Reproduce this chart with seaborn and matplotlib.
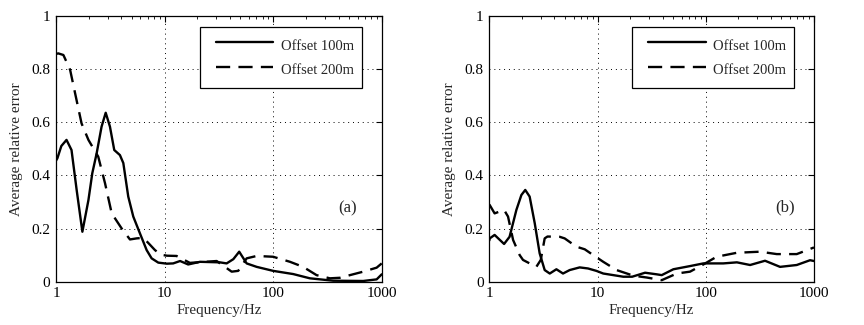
import numpy as np
import pandas as pd
import matplotlib
matplotlib.use("Agg")
import matplotlib.pyplot as plt
import seaborn as sns
from matplotlib.lines import Line2D
from matplotlib.legend_handler import HandlerLine2D
from matplotlib.ticker import FixedLocator, FixedFormatter, LogLocator, NullFormatter

# ---- data ----
a_f100 = [1, 1.03, 1.12, 1.25, 1.39, 1.55, 1.75, 1.99, 2.16, 2.37, 2.63, 2.87, 3.14, 3.44, 3.88, 4.17, 4.63,
          5.15, 5.93, 6.84, 7.6, 8.75, 10.5, 12.0, 13.9, 16.5, 21.2, 32.3, 37.3, 43, 48.7, 57, 70.5, 100, 153,
          218, 357, 676, 898, 1000]
a_e100 = [0.455, 0.464, 0.51, 0.533, 0.495, 0.345, 0.188, 0.307, 0.408, 0.483, 0.583, 0.635, 0.583, 0.495,
          0.476, 0.446, 0.32, 0.245, 0.182, 0.119, 0.088, 0.072, 0.068, 0.069, 0.078, 0.065, 0.075, 0.073, 0.069,
          0.085, 0.113, 0.069, 0.056, 0.041, 0.029, 0.013, 0.004, 0.003, 0.009, 0.028]
a_f200 = [1, 1.05, 1.17, 1.35, 1.5, 1.72, 1.99, 2.45, 2.83, 3.26, 4.03, 4.8, 5.53, 6.3, 7.0, 8.16, 9.2, 10.5,
          12.9, 17.1, 30.2, 41.5, 47.7, 57, 70.5, 100, 143, 189, 251, 333, 412, 510, 676, 898, 1000]
a_e200 = [0.856, 0.858, 0.852, 0.796, 0.708, 0.595, 0.533, 0.47, 0.37, 0.257, 0.2, 0.159, 0.163, 0.165, 0.148,
          0.119, 0.102, 0.098, 0.097, 0.071, 0.078, 0.038, 0.041, 0.088, 0.097, 0.094, 0.075, 0.056, 0.025, 0.013,
          0.015, 0.025, 0.038, 0.053, 0.069]

b_f100 = [1, 1.01, 1.12, 1.37, 1.54, 1.78, 1.98, 2.15, 2.36, 2.63, 2.92, 3.25, 3.62, 4.17, 4.8, 5.53, 6.84,
          8.17, 9.75, 11.3, 17.3, 20.9, 27.5, 35.2, 39.2, 50.2, 71.6, 95, 145, 194, 257, 353, 486, 693, 920, 1000]
b_e100 = [0.155, 0.163, 0.176, 0.142, 0.169, 0.27, 0.326, 0.345, 0.32, 0.22, 0.107, 0.044, 0.031, 0.047, 0.031,
          0.044, 0.054, 0.05, 0.041, 0.031, 0.019, 0.019, 0.034, 0.028, 0.025, 0.047, 0.059, 0.069, 0.069, 0.073,
          0.063, 0.079, 0.056, 0.063, 0.081, 0.078]
b_f200 = [1, 1.01, 1.12, 1.37, 1.49, 1.66, 1.91, 2.05, 2.72, 2.99, 3.25, 3.45, 4.47, 4.97, 6.37, 7.62, 9.15,
          11.3, 15, 21.4, 28.5, 39.2, 54, 71.6, 95, 126, 194, 318, 453, 693, 1000]
b_e200 = [0.29, 0.288, 0.257, 0.27, 0.245, 0.157, 0.1, 0.082, 0.056, 0.082, 0.163, 0.17, 0.169, 0.163, 0.132,
          0.122, 0.1, 0.075, 0.044, 0.023, 0.016, 0.006, 0.031, 0.038, 0.065, 0.094, 0.109, 0.113, 0.104, 0.104,
          0.129]

series_names = ["Offset 100m", "Offset 200m"]
panel_labels = ["(a)", "(b)"]
x_ticks = [1, 10, 100, 1000]
x_ticklabels = ["1", "10", "100", "1000"]
y_ticks = [0, 0.2, 0.4, 0.6, 0.8, 1]
y_ticklabels = ["0", "0.2", "0.4", "0.6", "0.8", "1"]

sns.set_theme(style="white")
plt.rcParams['font.family'] = ['Liberation Serif', 'DejaVu Serif']

fig = plt.figure(figsize=(8.64, 3.25), dpi=100)
ax_a = fig.add_axes([0.0648, 0.133, 0.377, 0.819])
ax_b = fig.add_axes([0.5663, 0.133, 0.3758, 0.819])

DASH = (0, (6.0, 3.5))
LEG_FS = 10.5


class OffsetLineHandler(HandlerLine2D):
    """Legend line that starts a little to the right of the handle box (MATLAB look)."""
    def __init__(self, offset=0.55, **kw):
        super().__init__(**kw)
        self.offset = offset

    def create_artists(self, legend, orig_handle, xdescent, ydescent, width, height, fontsize, trans):
        off = self.offset * fontsize
        return super().create_artists(legend, orig_handle, xdescent - off, ydescent, width - off,
                                      height, fontsize, trans)


panels = [
    (ax_a, a_f100, a_e100, a_f200, a_e200, panel_labels[0], (486, 0.275)),
    (ax_b, b_f100, b_e100, b_f200, b_e200, panel_labels[1], (540, 0.28)),
]

for ax, f1, e1, f2, e2, lab, lab_pos in panels:
    df1 = pd.DataFrame({"f": f1, "e": e1})
    df2 = pd.DataFrame({"f": f2, "e": e2})
    sns.lineplot(data=df1, x="f", y="e", ax=ax, color="black", lw=1.7, sort=True)
    sns.lineplot(data=df2, x="f", y="e", ax=ax, color="black", lw=1.7, sort=True, linestyle=DASH)
    ax.set_xscale("log")
    ax.set_xlim(1, 1000)
    ax.set_ylim(0, 1)
    ax.xaxis.set_major_locator(FixedLocator(x_ticks))
    ax.xaxis.set_major_formatter(FixedFormatter(x_ticklabels))
    ax.xaxis.set_minor_locator(LogLocator(base=10, subs=np.arange(2, 10)))
    ax.xaxis.set_minor_formatter(NullFormatter())
    ax.yaxis.set_major_locator(FixedLocator(y_ticks))
    ax.yaxis.set_major_formatter(FixedFormatter(y_ticklabels))
    ax.tick_params(which="both", direction="in", top=True, right=True, colors="black",
                   labelsize=11, pad=4)
    ax.tick_params(which="major", length=4, width=0.8)
    ax.tick_params(which="minor", length=2.5, width=0.6)
    ax.grid(True, which="major", color="black", linestyle=(0, (1, 4)), linewidth=0.7)
    for s in ax.spines.values():
        s.set_color("black")
        s.set_linewidth(0.9)
        s.set_visible(True)
    ax.set_xlabel("Frequency/Hz", fontsize=10.8, labelpad=3)
    ax.set_ylabel("Average relative error", fontsize=11, labelpad=6)
    ax.text(lab_pos[0], lab_pos[1], lab, fontsize=12, ha="center", va="center")
    h1 = Line2D([], [], color="black", lw=1.7)
    h2 = Line2D([], [], color="black", lw=1.7, linestyle=DASH)
    leg = ax.legend([h1, h2], series_names, loc="upper right", bbox_to_anchor=(0.939, 0.958),
                    fontsize=LEG_FS, frameon=True, fancybox=False, handlelength=4.5,
                    handleheight=1.75, borderpad=0.55, labelspacing=0.3, handletextpad=0.5,
                    borderaxespad=0,
                    handler_map={h1: OffsetLineHandler(), h2: OffsetLineHandler()})
    leg.get_frame().set_edgecolor("black")
    leg.get_frame().set_linewidth(0.9)
    leg.get_frame().set_alpha(1)

fig.savefig("out.png", dpi=100)
